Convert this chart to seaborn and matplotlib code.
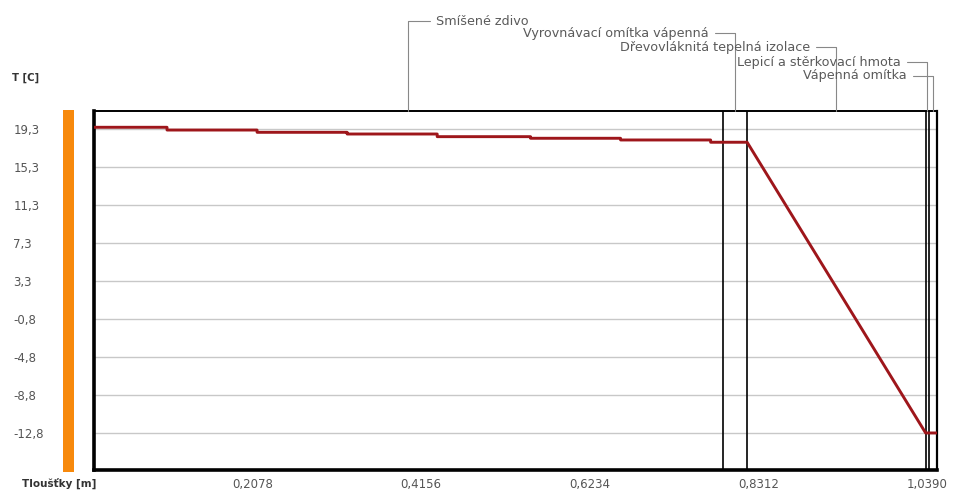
import numpy as np
import pandas as pd
import matplotlib
matplotlib.use("Agg")
import matplotlib.pyplot as plt
from matplotlib.patches import Rectangle
from matplotlib.transforms import ScaledTranslation
import seaborn as sns

# ---- data ----
layer_names = ["Smíšené zdivo", "Vyrovnávací omítka vápenná",
               "Dřevovláknitá tepelná izolace", "Lepicí a stěrkovací hmota",
               "Vápenná omítka"]
layer_thickness = [0.775, 0.030, 0.220, 0.004, 0.010]

temp_x = [0.000, 0.090, 0.090, 0.201, 0.201, 0.312, 0.312, 0.423, 0.423,
          0.538, 0.538, 0.649, 0.649, 0.760, 0.760, 0.805, 1.025, 1.039]
temp_t = [19.48, 19.48, 19.19, 19.19, 18.95, 18.95, 18.77, 18.77, 18.49,
          18.49, 18.32, 18.32, 18.14, 18.14, 17.90, 17.90, -12.80, -12.80]

y_tick_labels = ["-12,8", "-8,8", "-4,8", "-0,8", "3,3", "7,3", "11,3", "15,3", "19,3"]
x_tick_labels = ["", "0,2078", "", "0,4156", "", "0,6234", "", "0,8312", "", "1,0390"]

# ---- style ----
sns.set_style("white")
plt.rcParams["font.family"] = ["DejaVu Sans"]

W, H = 954, 493
fig = plt.figure(figsize=(W / 100, H / 100), dpi=100)
ax = fig.add_axes([94 / W, 23 / H, 843 / W, 359 / H])

total = sum(layer_thickness)
ax.set_xlim(0, total)
ax.set_ylim(-16.71, 21.2)

# grid
y_pos = np.linspace(-12.8, 19.3, len(y_tick_labels))
ax.set_yticks(y_pos, y_tick_labels)
ax.yaxis.grid(True, color="#c8c8c8", linewidth=1.0)
ax.xaxis.grid(False)
ax.set_axisbelow(True)

x_pos = [total * (k + 1) / len(x_tick_labels) for k in range(len(x_tick_labels))]
ax.set_xticks(x_pos, x_tick_labels)

ax.tick_params(axis="y", direction="in", length=3, width=1, color="#888888",
               pad=58, labelsize=8.5, labelcolor="#555555")
for lab in ax.get_yticklabels():
    lab.set_ha("left")
ax.tick_params(axis="x", direction="in", length=8, width=1, color="#aaaaaa",
               pad=6, labelsize=8.5, labelcolor="#555555")
offset = ScaledTranslation(-0.10, 0, fig.dpi_scale_trans)
for lab in ax.get_xticklabels():
    lab.set_transform(lab.get_transform() + offset)

# layer boundaries
bounds = np.cumsum(layer_thickness)
for b in bounds[:-1]:
    ax.axvline(b, color="black", linewidth=1.2, zorder=3)

# temperature profile
df = pd.DataFrame({"x": temp_x, "T": temp_t})
sns.lineplot(data=df, x="x", y="T", ax=ax, estimator=None, sort=False,
             color="#9e161b", linewidth=2.1, zorder=4)
ax.set_xlabel("")
ax.set_ylabel("")

# spines
for side, lw in {"left": 2.6, "bottom": 2.6, "top": 1.4, "right": 1.6}.items():
    ax.spines[side].set_visible(True)
    ax.spines[side].set_color("black")
    ax.spines[side].set_linewidth(lw)

# layer annotations
centers = bounds - np.array(layer_thickness) / 2
text_y = [1.250, 1.217, 1.178, 1.136, 1.0975]
for i, (name, c, ty) in enumerate(zip(layer_names, centers, text_y)):
    if i == 0:
        dx, ha, rel = 20, "left", (0, 0.5)
    else:
        dx, ha, rel = -19, "right", (1, 0.5)
    ax.annotate(name, xy=(c, 1.0), xycoords=("data", "axes fraction"),
                xytext=(dx, (ty - 1.0) * 359 * 0.72), textcoords="offset points",
                ha=ha, va="center", fontsize=9.2, color="#5a5a5a",
                annotation_clip=False,
                arrowprops=dict(arrowstyle="-", color="#888888", lw=0.8,
                                shrinkA=2, shrinkB=0, relpos=rel,
                                connectionstyle="angle,angleA=0,angleB=90,rad=0"))

# axis titles
fig.text(12 / W, 1 - 78 / H, "T [C]", fontsize=7.3, fontweight="bold",
         color="#333333", ha="left", va="center")
fig.text(22 / W, 1 - 484 / H, "Tloušťky [m]", fontsize=7.5, fontweight="bold",
         color="#333333", ha="left", va="center")

# orange scale bar
fig.add_artist(Rectangle((63 / W, 21 / H), 11 / W, 362 / H,
                         transform=fig.transFigure, color="#f7890c",
                         linewidth=0))

fig.savefig("out.png", dpi=100)
